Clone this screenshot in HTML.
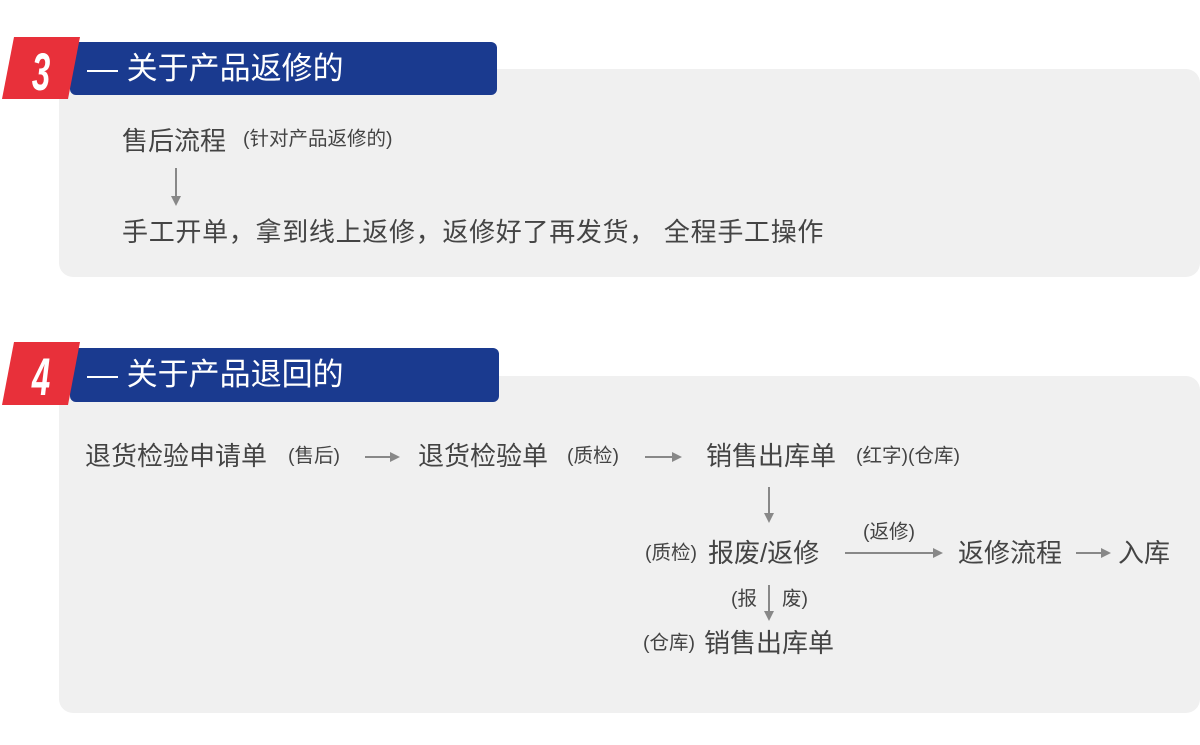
<!DOCTYPE html>
<html><head><meta charset="utf-8"><style>
body{margin:0;width:1200px;height:745px;background:#fff;position:relative;overflow:hidden;font-family:"Liberation Sans","Noto Sans CJK SC",sans-serif;color:#444}
.p{position:absolute;background:#f0f0f0;border-radius:14px}
.t{position:absolute;white-space:nowrap;line-height:1}
.b{font-size:26px}.s{font-size:19.5px}
.hd{position:absolute;background:#1a3a8f;border-radius:6px;color:#fff;font-size:31px;line-height:1}
</style></head><body>
<div class="p" style="left:59px;top:69px;width:1141px;height:208px"></div>
<div class="p" style="left:59px;top:376px;width:1141px;height:337px"></div>
<div class="hd" style="left:70px;top:42px;width:427px;height:53px"><span style="position:absolute;left:17px;top:11px">— 关于产品返修的</span></div>
<div class="hd" style="left:70px;top:348px;width:429px;height:54px"><span style="position:absolute;left:17px;top:11px">— 关于产品退回的</span></div>
<svg style="position:absolute;left:0;top:0" width="1200" height="745">
<polygon points="14,37 80,37 68,99 2,99" fill="#e8303a"/>
<polygon points="14,342 80,342 68,405 2,405" fill="#e8303a"/>
<text transform="translate(41,90) scale(0.75,1.2)" font-size="44" font-weight="bold" font-style="italic" fill="#fff" text-anchor="middle" font-family="Liberation Sans">3</text>
<text transform="translate(41,395) scale(0.75,1.2)" font-size="44" font-weight="bold" font-style="italic" fill="#fff" text-anchor="middle" font-family="Liberation Sans">4</text>
<g stroke="#888" stroke-width="2" fill="none">
<line x1="176" y1="168" x2="176" y2="198"/>
<line x1="365" y1="457" x2="392" y2="457"/>
<line x1="645" y1="457" x2="674" y2="457"/>
<line x1="769" y1="487" x2="769" y2="515"/>
<line x1="845" y1="553" x2="935" y2="553"/>
<line x1="1076" y1="553" x2="1103" y2="553"/>
<line x1="769" y1="585" x2="769" y2="613"/>
</g>
<g fill="#888">
<polygon points="171,196 181,196 176,206"/>
<polygon points="390,452 390,462 400,457"/>
<polygon points="672,452 672,462 682,457"/>
<polygon points="764,513 774,513 769,523"/>
<polygon points="933,548 933,558 943,553"/>
<polygon points="1101,548 1101,558 1111,553"/>
<polygon points="764,611 774,611 769,621"/>
</g></svg>
<div class="t b" style="left:122px;top:128px">售后流程</div>
<div class="t s" style="left:243px;top:130px">(针对产品返修的)</div>
<div class="t b" style="left:122px;top:219px;letter-spacing:0.7px">手工开单，拿到线上返修，返修好了再发货， 全程手工操作</div>
<div class="t b" style="left:85px;top:443px">退货检验申请单</div>
<div class="t s" style="left:288px;top:447px">(售后)</div>
<div class="t b" style="left:418px;top:443px">退货检验单</div>
<div class="t s" style="left:567px;top:447px">(质检)</div>
<div class="t b" style="left:706px;top:443px">销售出库单</div>
<div class="t s" style="left:856px;top:447px">(红字)(仓库)</div>
<div class="t s" style="left:645px;top:544px">(质检)</div>
<div class="t b" style="left:708px;top:540px">报废/返修</div>
<div class="t s" style="left:863px;top:523px">(返修)</div>
<div class="t b" style="left:958px;top:540px">返修流程</div>
<div class="t b" style="left:1118px;top:540px">入库</div>
<div class="t s" style="left:731px;top:590px">(报</div>
<div class="t s" style="left:782px;top:590px">废)</div>
<div class="t s" style="left:643px;top:634px">(仓库)</div>
<div class="t b" style="left:704px;top:630px">销售出库单</div>
</body></html>
